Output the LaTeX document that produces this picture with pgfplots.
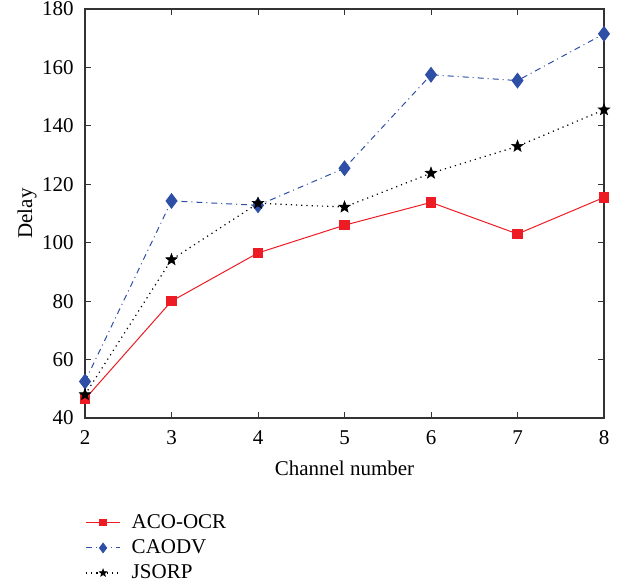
\documentclass[border=0pt]{standalone}
\usepackage{fontspec}
\setmainfont{Liberation Serif}
\usepackage{pgfplots}
\pgfplotsset{compat=1.18}
\usetikzlibrary{calc}
\definecolor{acored}{HTML}{ED1C24}
\definecolor{caoblue}{HTML}{2E4FA6}
% filled five-point star
\pgfdeclareplotmark{fstar}{%
  \pgfpathmoveto{\pgfpointpolar{90}{\pgfplotmarksize}}%
  \pgfpathlineto{\pgfpointpolar{126}{0.42\pgfplotmarksize}}%
  \pgfpathlineto{\pgfpointpolar{162}{\pgfplotmarksize}}%
  \pgfpathlineto{\pgfpointpolar{198}{0.42\pgfplotmarksize}}%
  \pgfpathlineto{\pgfpointpolar{234}{\pgfplotmarksize}}%
  \pgfpathlineto{\pgfpointpolar{270}{0.42\pgfplotmarksize}}%
  \pgfpathlineto{\pgfpointpolar{306}{\pgfplotmarksize}}%
  \pgfpathlineto{\pgfpointpolar{342}{0.42\pgfplotmarksize}}%
  \pgfpathlineto{\pgfpointpolar{18}{\pgfplotmarksize}}%
  \pgfpathlineto{\pgfpointpolar{54}{0.42\pgfplotmarksize}}%
  \pgfpathclose
  \pgfusepathqfillstroke}
\begin{document}
\fontsize{10.5}{12}\selectfont
\begin{tikzpicture}
\begin{axis}[
    name=main,
    scale only axis,
    width=259.5pt, height=204.5pt,
    xmin=2, xmax=8, ymin=40, ymax=180,
    xtick={2,...,8},
    ytick={40,60,...,180},
    tick align=inside,
    tick style={black!80, line width=0.5pt},
    major tick length=3pt,
    axis line style={black!80, line width=0.6pt},
    /pgf/number format/assume math mode=true,
    tick label style={font=\fontsize{10.5}{12}\selectfont},
    label style={font=\fontsize{10.5}{12}\selectfont},
    xticklabel style={yshift=-2.5pt},
    yticklabel style={xshift=-2pt},
    xlabel={Channel number},
    ylabel={Delay},
    xlabel style={yshift=-1pt},
    ylabel style={yshift=-4.5pt},
    legend style={at={(0,-0.215)}, anchor=north west, draw=none, fill=none,
        font=\fontsize{10.5}{12}\selectfont, row sep=0pt,
        inner xsep=0pt, legend cell align=left,
        /tikz/every odd column/.append style={column sep=3.5pt}},
    legend cell align=left,
    legend image post style={/tikz/every mark/.append style={scale=0.65}},
]
\addplot[acored, line width=0.5pt, mark=square*, mark size=2.4pt,
    mark options={solid, fill=acored}]
    coordinates {(2,46.5) (3,80) (4,96.5) (5,106) (6,113.8) (7,103) (8,115.5)};
\addlegendentry{ACO-OCR}
\addplot[caoblue, line width=0.5pt, dash dot, mark=diamond*, mark size=3.6pt,
    mark options={solid, fill=caoblue}]
    coordinates {(2,52.5) (3,114.3) (4,112.8) (5,125.5) (6,157.5) (7,155.5) (8,171.5)};
\addlegendentry{CAODV}
\addplot[black, line width=0.6pt, dotted, mark=fstar, mark size=3pt,
    mark options={solid, fill=black, line width=0.3pt}]
    coordinates {(2,48) (3,94.2) (4,113.5) (5,112.2) (6,123.8) (7,133) (8,145.5)};
\addlegendentry{JSORP}
\end{axis}
\pgfresetboundingbox
\path ($(main.south west)+(-42.5pt,-83pt)$) rectangle ($(main.north east)+(12pt,4.5pt)$);
\end{tikzpicture}
\end{document}
